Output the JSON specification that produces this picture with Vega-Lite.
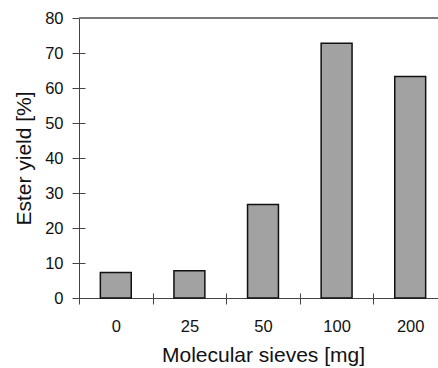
{
  "$schema": "https://vega.github.io/schema/vega-lite/v6.json",
  "autosize": "none",
  "padding": {"left": 79, "top": 18, "right": 0, "bottom": 70},
  "width": 368,
  "height": 280,
  "background": "white",
  "config": {
    "view": {"stroke": null},
    "font": "Liberation Sans",
    "axis": {
      "labelFont": "Liberation Sans",
      "titleFont": "Liberation Sans",
      "labelColor": "#111",
      "titleColor": "#111",
      "titleFontWeight": "normal",
      "domainColor": "#444",
      "tickColor": "#444",
      "grid": false,
      "labelOverlap": false
    }
  },
  "data": {
    "values": [
      {"sieves": "0", "yield": 7.3},
      {"sieves": "25", "yield": 7.8},
      {"sieves": "50", "yield": 26.7},
      {"sieves": "100", "yield": 72.8},
      {"sieves": "200", "yield": 63.3}
    ]
  },
  "resolve": {"axis": {"y": "independent", "x": "independent"}},
  "layer": [
    {
      "mark": {"type": "bar", "width": {"band": 0.42}, "fill": "#a2a2a2", "stroke": "#111", "strokeWidth": 1.5},
      "encoding": {
        "x": {
          "field": "sieves", "type": "ordinal", "sort": null,
          "scale": {"paddingInner": 0, "paddingOuter": 0},
          "axis": {
            "orient": "bottom",
            "title": "Molecular sieves [mg]", "labelAngle": 0, "labelFontSize": 16.5,
            "titleFontSize": 21, "tickBand": "extent", "tickSize": 6,
            "labelPadding": 14, "titlePadding": 10
          }
        },
        "y": {
          "field": "yield", "type": "quantitative",
          "scale": {"domain": [0, 80], "nice": false},
          "axis": {
            "orient": "left",
            "title": "Ester yield [%]", "values": [0, 10, 20, 30, 40, 50, 60, 70, 80],
            "labelFontSize": 16.5, "titleFontSize": 21, "tickSize": 7,
            "labelPadding": 9, "titlePadding": 10
          }
        }
      }
    },
    {
      "mark": {"type": "bar", "opacity": 0},
      "encoding": {
        "x": {
          "field": "sieves", "type": "ordinal", "sort": null,
          "axis": {
            "orient": "bottom", "title": null, "labels": false, "domain": false,
            "tickBand": "extent", "tickSize": -5
          }
        },
        "y": {
          "field": "yield", "type": "quantitative",
          "axis": {
            "orient": "left", "title": null, "labels": false, "domain": false,
            "values": [10, 20, 30, 40, 50, 60, 70], "tickSize": -6
          }
        }
      }
    },
    {
      "mark": {"type": "rule", "stroke": "#777", "strokeWidth": 1},
      "encoding": {"y": {"datum": 80, "type": "quantitative", "axis": null}}
    }
  ]
}
